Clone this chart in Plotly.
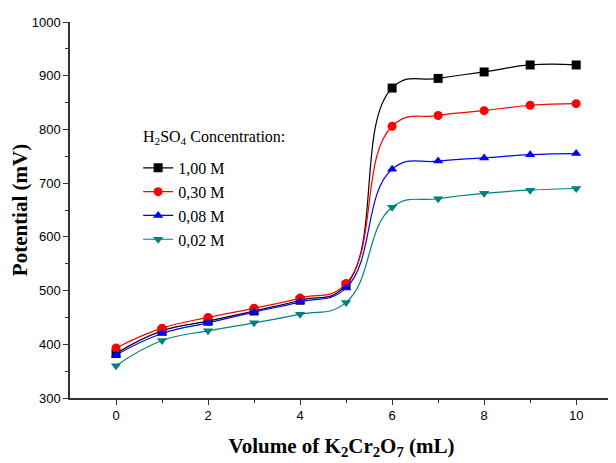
import plotly.graph_objects as go

volume = [0, 1, 2, 3, 4, 5, 6, 7, 8, 9, 10]
series_names = ["1,00 M", "0,30 M", "0,08 M", "0,02 M"]
s_100 = [383, 425, 443, 462, 482, 510, 877, 895, 907, 920, 920]
s_030 = [393, 430, 450, 467, 486, 513, 806, 826, 835, 845, 848]
s_008 = [380, 420, 440, 460, 479, 505, 726, 741, 747, 753, 755]
s_002 = [360, 407, 425, 440, 456, 478, 655, 671, 681, 687, 690]

values = [s_100, s_030, s_008, s_002]
colors = ["#000000", "#FF0000", "#0000FF", "#008080"]
symbols = ["square", "circle", "triangle-up", "triangle-down"]

fig = go.Figure()
for name, ys, c, s in zip(series_names, values, colors, symbols):
    fig.add_trace(go.Scatter(
        x=volume, y=ys, name=name, mode="lines+markers",
        line=dict(color=c, width=1.2, shape="spline", smoothing=1.3),
        marker=dict(symbol=s, size=9, color=c),
    ))

fig.add_annotation(
    text="H<sub>2</sub>SO<sub>4</sub> Concentration:",
    xref="paper", yref="paper", x=0.1307, y=0.694,
    xanchor="left", yanchor="middle", showarrow=False,
    font=dict(family="Liberation Serif", size=16, color="black"),
)

fig.update_layout(
    width=608, height=455,
    margin=dict(l=62, r=3, t=14, b=65, autoexpand=False),
    paper_bgcolor="white", plot_bgcolor="white",
    showlegend=True,
    legend=dict(
        x=0.1255, y=0.657, xanchor="left", yanchor="top",
        bgcolor="rgba(0,0,0,0)",
        font=dict(family="Liberation Serif", size=16, color="black"),
        tracegroupgap=2, itemwidth=30,
    ),
    xaxis=dict(
        range=[-1, 10.8], tickmode="array", tickvals=[0, 2, 4, 6, 8, 10],
        ticks="outside", ticklen=5, tickwidth=1, tickcolor="#333",
        showline=True, linecolor="#333", linewidth=1.5,
        showgrid=False, zeroline=False, automargin=False,
        tickfont=dict(family="Liberation Sans", size=13, color="black"),
        minor=dict(tickvals=[1, 3, 5, 7, 9], ticks="outside", ticklen=3, tickcolor="#333"),
        title=dict(text="<b>Volume of K<sub>2</sub>Cr<sub>2</sub>O<sub>7</sub> (mL)</b>",
                   font=dict(family="Liberation Serif", size=21, color="black"),
                   standoff=16),
    ),
    yaxis=dict(
        range=[300, 1000], tickmode="array",
        tickvals=[300, 400, 500, 600, 700, 800, 900, 1000],
        ticks="outside", ticklen=5, tickwidth=1, tickcolor="#333",
        showline=True, linecolor="#333", linewidth=1.5,
        showgrid=False, zeroline=False, automargin=False,
        tickfont=dict(family="Liberation Sans", size=13, color="black"),
        minor=dict(tickvals=[350, 450, 550, 650, 750, 850, 950], ticks="outside", ticklen=3, tickcolor="#333"),
        title=dict(text="<b>Potential (mV)</b>",
                   font=dict(family="Liberation Serif", size=21, color="black"),
                   standoff=0),
    ),
)

fig.write_html("out.html")
